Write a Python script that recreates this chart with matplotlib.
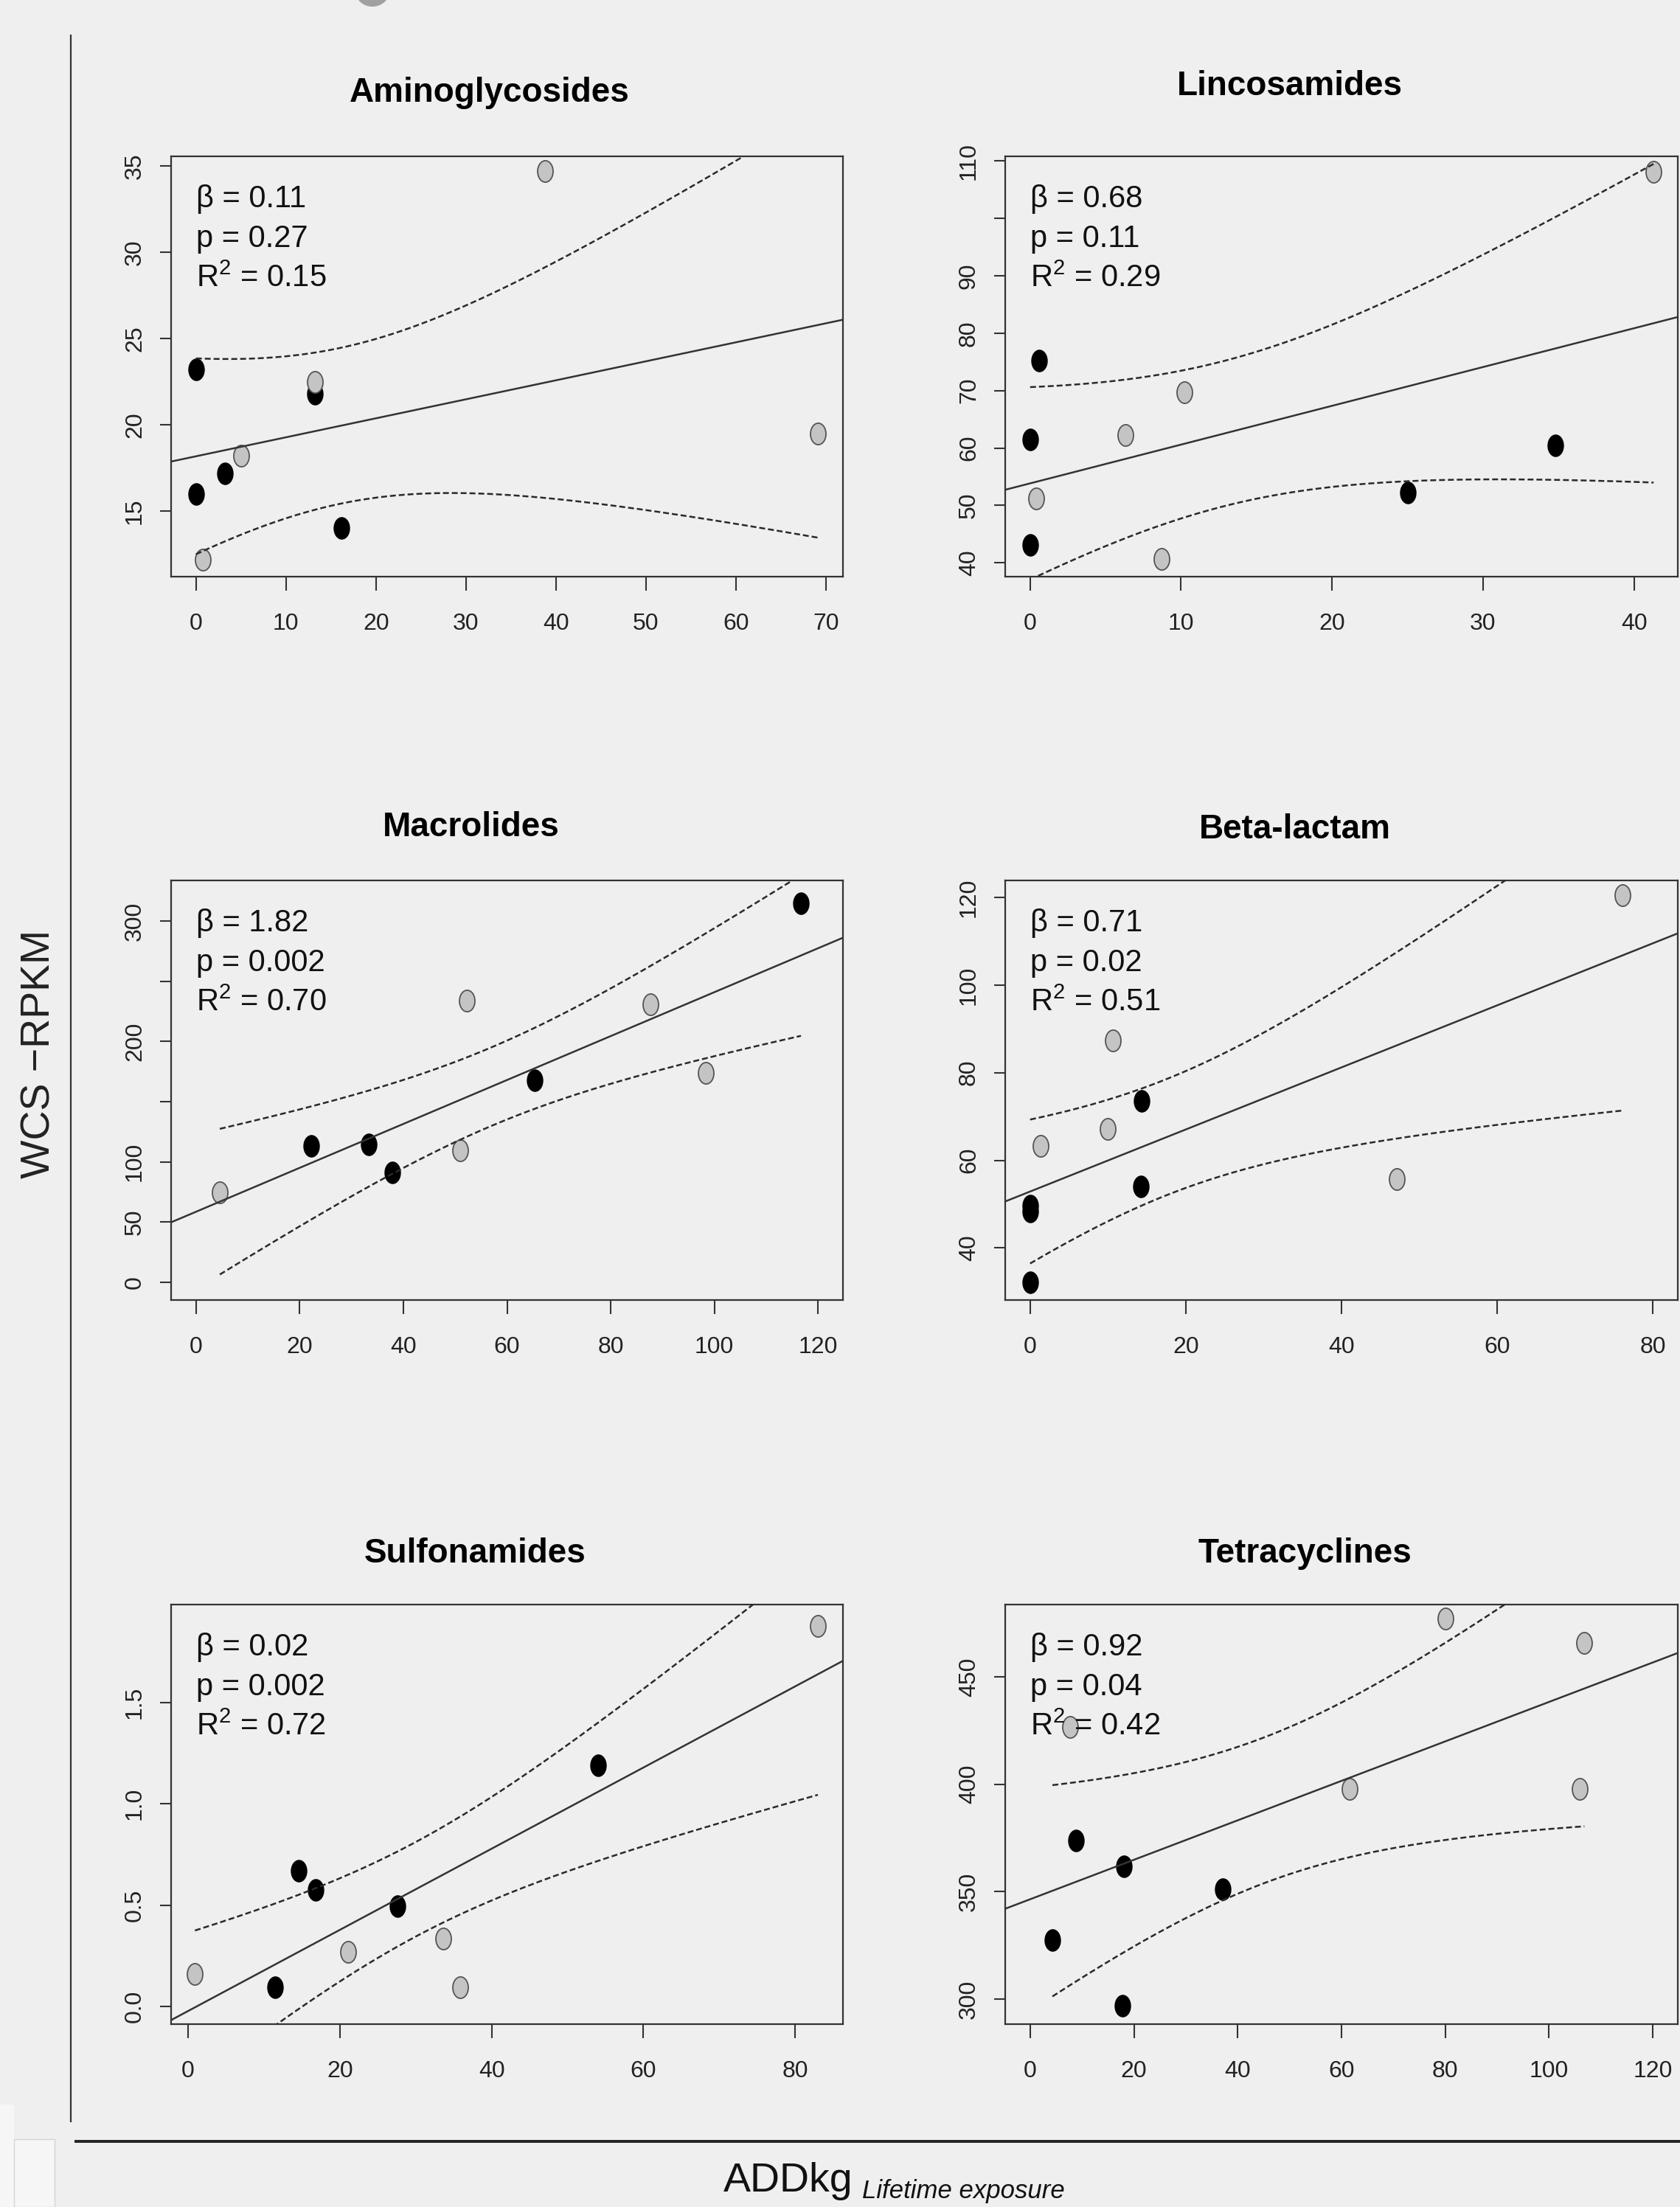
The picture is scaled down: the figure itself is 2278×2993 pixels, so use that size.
import numpy as np
import matplotlib.pyplot as plt
from matplotlib.path import Path
from matplotlib.transforms import Affine2D
from matplotlib.lines import Line2D
from matplotlib.patches import Rectangle, Ellipse
from matplotlib.text import Annotation

fams = ['Liberation Sans', 'DejaVu Sans']
plt.rcParams['font.family'] = fams
plt.rcParams['mathtext.fontset'] = 'custom'
plt.rcParams['mathtext.rm'] = 'Liberation Sans'

# ---- data ----
titles = ['Aminoglycosides', 'Lincosamides', 'Macrolides',
          'Beta-lactam', 'Sulfonamides', 'Tetracyclines']

amino_black_x = [0, 0, 3.2, 13.2, 16.2]
amino_black_y = [23.2, 16.0, 17.2, 21.8, 14.0]
amino_grey_x = [0.75, 5.0, 13.2, 38.8, 69.1]
amino_grey_y = [12.2, 18.2, 22.5, 34.7, 19.5]

linco_black_x = [0, 0, 0.6, 25.0, 34.8]
linco_black_y = [43.1, 61.5, 75.2, 52.2, 60.4]
linco_grey_x = [0.4, 6.3, 8.7, 10.2, 41.3]
linco_grey_y = [51.2, 62.3, 40.7, 69.7, 108.1]

macro_black_x = [22.3, 33.3, 37.9, 65.3, 116.7]
macro_black_y = [113.5, 114.5, 91.3, 167.6, 314.6]
macro_grey_x = [4.6, 50.9, 52.2, 87.7, 98.3]
macro_grey_y = [74.7, 109.5, 233.7, 230.7, 173.6]

beta_black_x = [0, 0, 0, 14.2, 14.3]
beta_black_y = [32.2, 48.3, 49.6, 54.0, 73.6]
beta_grey_x = [1.3, 10.0, 10.6, 47.1, 76.1]
beta_grey_y = [63.3, 67.1, 87.4, 55.7, 120.5]

sulfa_black_x = [11.5, 14.6, 16.8, 27.6, 54.0]
sulfa_black_y = [0.094, 0.669, 0.575, 0.494, 1.19]
sulfa_grey_x = [0.9, 21.1, 33.6, 35.9, 83.0]
sulfa_grey_y = [0.162, 0.271, 0.337, 0.096, 1.878]

tetra_black_x = [4.3, 8.9, 17.8, 18.1, 37.1]
tetra_black_y = [327.4, 373.8, 296.9, 361.8, 351.1]
tetra_grey_x = [7.7, 61.6, 80.1, 105.9, 106.8]
tetra_grey_y = [426.7, 397.7, 477.0, 397.7, 465.9]

betas = ['0.11', '0.68', '1.82', '0.71', '0.02', '0.92']
pvals = ['0.27', '0.11', '0.002', '0.02', '0.002', '0.04']
r2s = ['0.15', '0.29', '0.70', '0.51', '0.72', '0.42']

xticks = [range(0, 71, 10), range(0, 41, 10), range(0, 121, 20),
          range(0, 81, 20), range(0, 81, 20), range(0, 121, 20)]
yticks = [[15, 20, 25, 30, 35],
          [40, 50, 60, 70, 80, 90, 100, 110],
          [0, 50, 100, 150, 200, 250, 300],
          [40, 60, 80, 100, 120],
          [0, 0.5, 1.0, 1.5],
          [300, 350, 400, 450]]
yticklabels = [['15', '20', '25', '30', '35'],
               ['40', '50', '60', '70', '80', '90', '', '110'],
               ['0', '50', '100', '', '200', '', '300'],
               ['40', '60', '80', '100', '120'],
               ['0.0', '0.5', '1.0', '1.5'],
               ['300', '350', '400', '450']]
xlims = [(-2.76, 71.9), (-1.65, 42.9), (-4.8, 124.8),
         (-3.2, 83.2), (-2.24, 86.3), (-4.8, 124.8)]
ylims = [(11.2, 35.56), (37.6, 110.8), (-14.7, 333.7),
         (28.1, 123.9), (-0.087, 1.984), (288.3, 483.6)]

panels = [
    (amino_black_x, amino_black_y, amino_grey_x, amino_grey_y),
    (linco_black_x, linco_black_y, linco_grey_x, linco_grey_y),
    (macro_black_x, macro_black_y, macro_grey_x, macro_grey_y),
    (beta_black_x, beta_black_y, beta_grey_x, beta_grey_y),
    (sulfa_black_x, sulfa_black_y, sulfa_grey_x, sulfa_grey_y),
    (tetra_black_x, tetra_black_y, tetra_grey_x, tetra_grey_y),
]

T975 = 2.306  # t quantile, 8 df

# ---- layout (pixels) ----
W, H = 2278, 2993
bg = '#efefef'
cols = [(232, 1143), (1363, 2275)]
rows = [(212, 782), (1194, 1763), (2176, 2745)]
title_pos = [(664, 138), (1749, 129), (639, 1134), (1756, 1137), (644, 2119), (1769, 2119)]

fig = plt.figure(figsize=(W / 100, H / 100), dpi=100, facecolor=bg)

oval = Path.unit_circle().transformed(Affine2D().scale(0.72, 1.0))

for i, (bx, by, gx, gy) in enumerate(panels):
    l, r = cols[i % 2]
    t, b = rows[i // 2]
    ax = fig.add_axes([l / W, 1 - b / H, (r - l) / W, (b - t) / H])
    ax.set_facecolor(bg)

    ax.plot(bx, by, ls='none', marker=oval, ms=21, mfc='black', mec='black', zorder=2)
    ax.plot(gx, gy, ls='none', marker=oval, ms=21, mfc='#c4c4c4', mec='#555555',
            mew=1.3, zorder=2)

    # least squares line with 95% confidence band of the mean
    x = np.array(bx + gx, dtype=float)
    y = np.array(by + gy, dtype=float)
    n = len(x)
    b1, b0 = np.polyfit(x, y, 1)
    s = np.sqrt(np.sum((y - b0 - b1 * x) ** 2) / (n - 2))
    xs = np.linspace(x.min(), x.max(), 200)
    se = s * np.sqrt(1 / n + (xs - x.mean()) ** 2 / np.sum((x - x.mean()) ** 2))
    fit = b0 + b1 * xs
    ax.axline((0, b0), slope=b1, color='#333333', lw=1.8, zorder=3)
    for band in (fit + T975 * se, fit - T975 * se):
        ax.plot(xs, band, color='#2a2a2a', lw=1.8, dashes=(3.2, 1.6), zorder=3)

    ax.set_xlim(xlims[i])
    ax.set_ylim(ylims[i])
    ax.set_xticks(list(xticks[i]))
    ax.set_yticks(yticks[i])
    ax.set_yticklabels(yticklabels[i], rotation=90, va='center',
                       fontsize=23, color='#222222')
    ax.tick_params(axis='x', length=13.5, width=1.5, pad=22, labelsize=23,
                   color='#333333', labelcolor='#222222')
    ax.tick_params(axis='y', length=10.5, width=1.5, pad=14, color='#333333')
    for sp in ax.spines.values():
        sp.set_color('#333333')
        sp.set_linewidth(1.6)

    lines = ['β = ' + betas[i], 'p = ' + pvals[i], 'R$^2$ = ' + r2s[i]]
    for k, txt in enumerate(lines):
        ax.annotate(txt, xy=(0, 1), xycoords='axes fraction',
                    xytext=(34, -69 - 54 * k), textcoords='offset pixels',
                    ha='left', va='baseline', fontsize=30, color='#111111', zorder=4)

    tx, ty = title_pos[i]
    fig.text(tx / W, 1 - ty / H, titles[i], ha='center', va='baseline',
             fontsize=33, fontweight='bold', color='black')

# shared labels and frame lines
fig.text(54 / W, 1 - 1429 / H, 'WCS \u2212RPKM', rotation=90, ha='center', va='center',
         fontsize=40, color='#222222')
addkg = fig.text(981 / W, 1 - 2972 / H, 'ADDkg', ha='left', va='baseline',
                 fontsize=40, color='#111111')
fig.add_artist(Annotation('Lifetime exposure', xy=(1, 0), xycoords=addkg,
                          xytext=(12, -4), textcoords='offset pixels',
                          ha='left', va='bottom', fontsize=25, style='italic',
                          color='#111111'))

fig.add_artist(Line2D([96 / W, 96 / W], [1 - 48 / H, 1 - 2877 / H],
                      transform=fig.transFigure, color='#333333', lw=1.6))
fig.add_artist(Line2D([103 / W, 1.0], [1 - 2904 / H, 1 - 2904 / H],
                      transform=fig.transFigure, color='#222222', lw=2.8))

fig.add_artist(Rectangle((0, 0), 19 / W, 139 / H, transform=fig.transFigure,
                         facecolor='#f6f6f6', edgecolor='none'))
fig.add_artist(Rectangle((19 / W, 0), 55 / W, 92 / H, transform=fig.transFigure,
                         facecolor='#f6f6f6', edgecolor='#d4d4d4', lw=1))
fig.add_artist(Ellipse((505 / W, 1 + 12 / H), 46 / W, 42 / H, transform=fig.transFigure,
                       facecolor='#a0a0a0', edgecolor='none'))

fig.savefig('out.png', dpi=100, facecolor=bg)
